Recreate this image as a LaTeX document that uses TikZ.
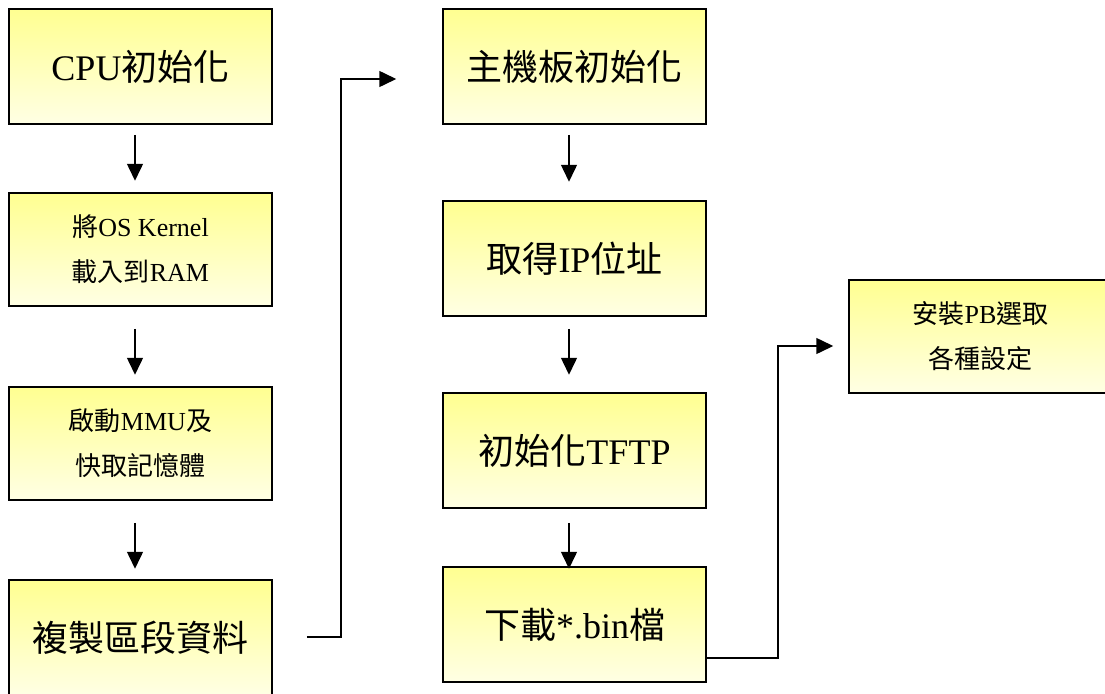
\documentclass[tikz,border=0pt]{standalone}
\usepackage{fontspec}
\setmainfont{Liberation Serif}
\newfontfamily\cjk{Noto Sans CJK TC}
\newcommand\zh[1]{{\cjk #1}}
\usetikzlibrary{arrows.meta,calc}
\definecolor{boxtop}{RGB}{255,255,145}
\definecolor{boxbot}{RGB}{255,255,228}
\begin{document}
\begin{tikzpicture}[x=1pt,y=-1pt,
  stepbox/.style={draw=black,line width=1.5pt,top color=boxtop,bottom color=boxbot,
    minimum width=263pt,inner sep=0pt,align=center},
  big/.style={font=\fontsize{36}{40}\selectfont},
  small/.style={font=\fontsize{26}{45}\selectfont},
  arr/.style={line width=1.5pt,-{Triangle[length=17pt,width=16pt]}},
  conn/.style={line width=1.5pt}]
\useasboundingbox (0,0) rectangle (1105,693);
% left column
\node[stepbox,big,minimum height=115pt] (l1) at (140.5,66.5) {CPU\zh{初始化}};
\node[stepbox,small,minimum height=113pt] (l2) at (140.5,249.5) {\zh{將}OS Kernel\\\zh{載入到}RAM};
\node[stepbox,small,minimum height=113pt] (l3) at (140.5,443.5) {\zh{啟動}MMU\zh{及}\\\zh{快取記憶體}};
\node[stepbox,big,minimum height=115pt] (l4) at (140.5,637.5) {\zh{複製區段資料}};
% middle column
\node[stepbox,big,minimum height=115pt] (m1) at (574.5,66.5) {\zh{主機板初始化}};
\node[stepbox,big,minimum height=115pt] (m2) at (574.5,258.5) {\zh{取得}IP\zh{位址}};
\node[stepbox,big,minimum height=115pt] (m3) at (574.5,450.5) {\zh{初始化}TFTP};
\node[stepbox,big,minimum height=115pt] (m4) at (574.5,624.5) {\zh{下載}*.bin\zh{檔}};
% right
\node[stepbox,small,minimum height=113pt] (r1) at (980.5,336.5) {\zh{安裝}PB\zh{選取}\\\zh{各種設定}};
% down arrows
\draw[arr] ($(l1.south)+(-5.5,10)$) -- ++(0,46);
\draw[arr] ($(l2.south)+(-5.5,22)$) -- ++(0,46);
\draw[arr] ($(l3.south)+(-5.5,22)$) -- ++(0,46);
\draw[arr] ($(m1.south)+(-5.5,10)$) -- ++(0,47);
\draw[arr] ($(m2.south)+(-5.5,12)$) -- ++(0,46);
\draw[arr] ($(m3.south)+(-5.5,14)$) -- ++(0,46);
% connectors
\coordinate (s1) at ($(l4.east)+(34,-0.5)$);
\coordinate (c1) at ($(m1.west)+(-46,12.5)$);
\draw[arr] (s1) -- ++(34,0) |- (c1);
\coordinate (c2) at ($(r1.west)+(-15,9.5)$);
\draw[arr] ($(m4.south east)+(0,-25)$) -- ++(71,0) |- (c2);
\end{tikzpicture}
\end{document}
